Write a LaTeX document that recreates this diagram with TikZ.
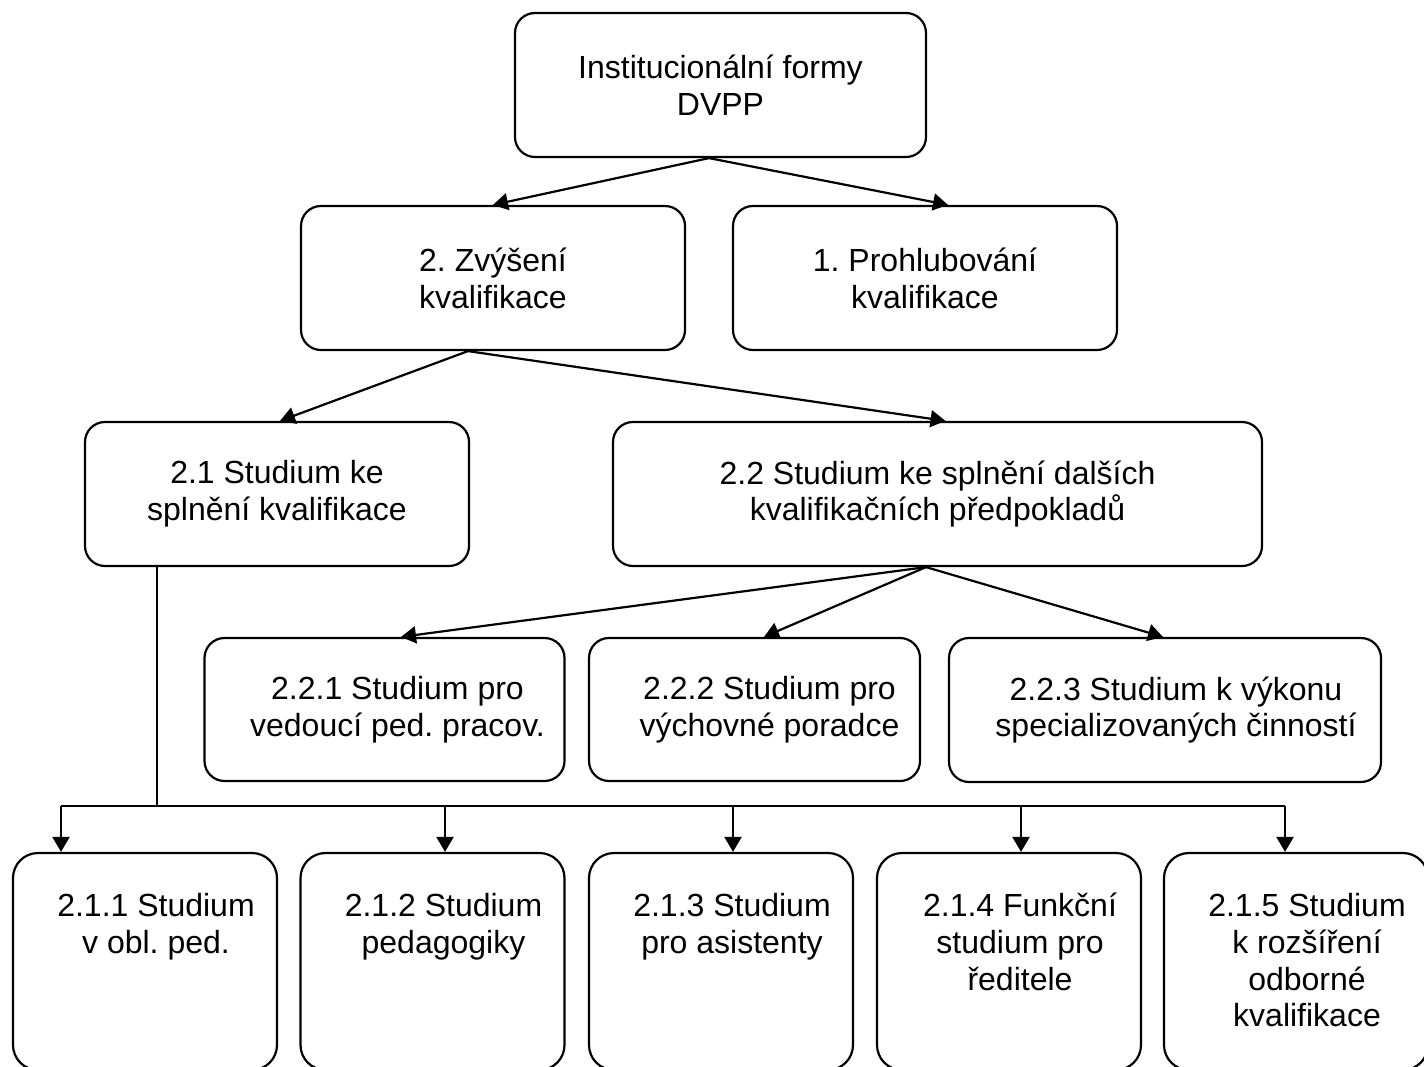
\documentclass[tikz,border=0pt]{standalone}
\usepackage{fontspec}
\setmainfont{Liberation Sans}
\usetikzlibrary{arrows.meta, positioning, calc}
\frenchspacing

\begin{document}
\begin{tikzpicture}[x=0.5pt, y=-0.5pt,
    box/.style={draw, line width=1.1pt, rounded corners=10pt, align=center, inner sep=0pt,
        minimum width=192pt, minimum height=72pt, font=\fontsize{16}{18.4}\selectfont},
    leaf/.style={draw, line width=1.1pt, rounded corners=12.5pt, inner sep=0pt,
        minimum width=132pt, minimum height=108.5pt},
    leaftext/.style={align=center, inner sep=0pt, anchor=north, font=\fontsize{16}{18.4}\selectfont},
    arr/.style={line width=1.1pt, -{Triangle[length=7.5pt, width=8.5pt]}},
    bus/.style={line width=1.1pt}]
\clip (0,0) rectangle (1424,1066);
% top
\node[box, minimum width=205.5pt] (inst) at (720.5,85) {Institucionální formy\\DVPP};
% second row
\node[box] (zvy) at (493,278) {2. Zvýšení\\kvalifikace};
\node[box] (proh) at (925,278) {1. Prohlubování\\kvalifikace};
% third row
\node[box] (s21) at (277,494) {2.1 Studium ke\\splnění kvalifikace};
\node[box, minimum width=324.5pt] (s22) at (937.5,494) {2.2 Studium ke splnění dalších\\kvalifikačních předpokladů};
% fourth row
\node[box, minimum width=180pt, minimum height=71.5pt] (s221) at (384.5,709.5) {\hspace*{13pt}2.2.1 Studium pro\\\hspace*{13pt}vedoucí ped. pracov.};
\node[box, minimum width=165.5pt, minimum height=71.5pt] (s222) at (754.5,709.5) {\hspace*{15pt}2.2.2 Studium pro\\\hspace*{15pt}výchovné poradce};
\node[box, minimum width=216pt] (s223) at (1165,710) {\hspace*{11pt}2.2.3 Studium k výkonu\\\hspace*{11pt}specializovaných činností};
% bottom row
\node[leaf] (b211) at (145,961.5) {};
\node[leaf] (b212) at (432.5,961.5) {};
\node[leaf] (b213) at (721,961.5) {};
\node[leaf] (b214) at (1009,961.5) {};
\node[leaf] (b215) at (1296,961.5) {};
\node[leaftext] (t211) at ([xshift=5.5pt,yshift=-20.5pt]b211.north) {2.1.1 Studium\\v obl. ped.};
\node[leaftext] (t212) at ([xshift=5.5pt,yshift=-20.5pt]b212.north) {2.1.2 Studium\\pedagogiky};
\node[leaftext] (t213) at ([xshift=5.5pt,yshift=-20.5pt]b213.north) {2.1.3 Studium\\pro asistenty};
\node[leaftext] (t214) at ([xshift=5.5pt,yshift=-20.5pt]b214.north) {2.1.4 Funkční\\studium pro\\ředitele};
\node[leaftext] (t215) at ([xshift=5.5pt,yshift=-20.5pt]b215.north) {2.1.5 Studium\\k rozšíření\\odborné\\kvalifikace};
% arrows
\draw[arr] ([xshift=-5.75pt]inst.south) -- (zvy.north);
\draw[arr] ([xshift=-5.75pt]inst.south) -- ([xshift=11.5pt]proh.north);
\draw[arr] ([xshift=-12.5pt]zvy.south) -- ([xshift=1.5pt]s21.north);
\draw[arr] ([xshift=-12.5pt]zvy.south) -- ([xshift=4pt]s22.north);
\draw[arr] ([xshift=-5.75pt]s22.south) -- ([xshift=8.25pt]s221.north);
\draw[arr] ([xshift=-5.75pt]s22.south) -- ([xshift=4.75pt]s222.north);
\draw[arr] ([xshift=-5.75pt]s22.south) -- ([xshift=-1pt]s223.north);
% bus to bottom row
\coordinate (busL) at (61,806);
\coordinate (busR) at (1285,806);
\draw[bus] ([xshift=-60pt]s21.south) -- ([xshift=-60pt]s21.south |- busL);
\draw[bus] (busL) -- (busR);
\foreach \n/\dx in {211/-42, 212/6.25, 213/6, 214/6, 215/-5.5}
    \draw[arr] ([xshift=\dx pt]b\n.north |- busL) -- ([xshift=\dx pt]b\n.north);
\end{tikzpicture}
\end{document}
